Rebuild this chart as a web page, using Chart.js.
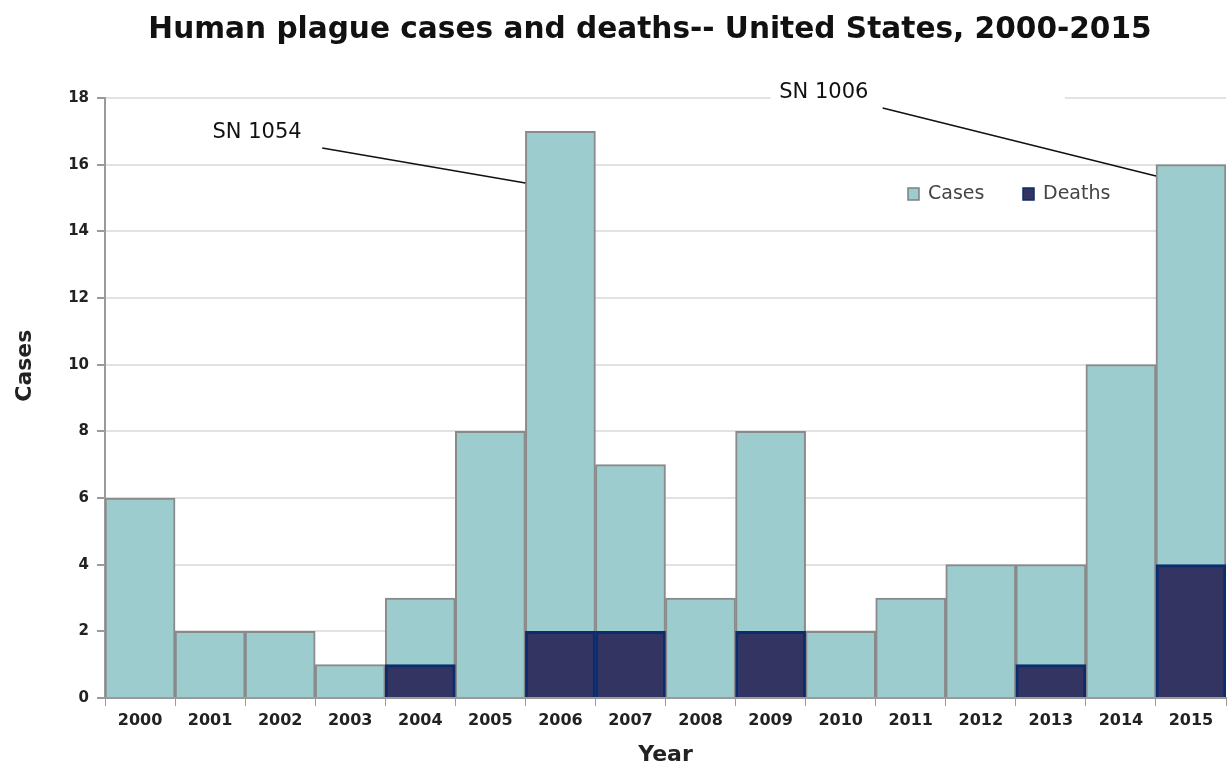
<!DOCTYPE html>
<html>
<head>
<meta charset="utf-8">
<script src="https://cdn.jsdelivr.net/npm/chart.js@4/dist/chart.umd.min.js"></script>
<style>
  html, body { margin: 0; padding: 0; background: #fff; }
  #wrap { width: 1229px; height: 769px; }
</style>
</head>
<body>
<div id="wrap"><canvas id="plague-chart"></canvas></div>
<script>
// Data
const years = ['2000', '2001', '2002', '2003', '2004', '2005', '2006', '2007',
               '2008', '2009', '2010', '2011', '2012', '2013', '2014', '2015'];
const cases = [6, 2, 2, 1, 3, 8, 17, 7, 3, 8, 2, 3, 4, 4, 10, 16];
const deaths = [0, 0, 0, 0, 1, 0, 2, 2, 0, 2, 0, 0, 0, 1, 0, 4];
const yTicks = [0, 2, 4, 6, 8, 10, 12, 14, 16, 18];

const casesColor = '#9ccccd';
const deathsColor = '#343463';

// Callout labels and their leader lines (in scale units: category index, cases)
const callouts = [
    { text: 'SN 1054', tx: 1.67, ty: 16.95, from: [2.6, 16.5], to: [5.5, 15.45] },
    { text: 'SN 1006', tx: 9.76, ty: 18.15, from: [10.6, 17.7], to: [14.5, 15.66], clear: [9.0, 13.2] }
];

const calloutPlugin = {
    id: 'callouts',
    afterDraw(chart) {
        const ctx = chart.ctx;
        const x = chart.scales.x, y = chart.scales.y;
        ctx.save();
        ctx.textBaseline = 'middle';

        // title: centred a little left of the plot centre, like the original
        ctx.font = 'bold 29.6px "DejaVu Sans"';
        ctx.fillStyle = '#111';
        ctx.textAlign = 'center';
        ctx.fillText('Human plague cases and deaths-- United States, 2000-2015', 650, 30);

        callouts.forEach(c => {
            if (c.clear) {
                ctx.fillStyle = '#fff';
                const x1 = x.getPixelForValue(c.clear[0]), x2 = x.getPixelForValue(c.clear[1]);
                ctx.fillRect(x1, y.getPixelForValue(c.ty) - 12, x2 - x1, 24);
            }
            ctx.strokeStyle = '#111';
            ctx.lineWidth = 1.5;
            ctx.beginPath();
            ctx.moveTo(x.getPixelForValue(c.from[0]), y.getPixelForValue(c.from[1]));
            ctx.lineTo(x.getPixelForValue(c.to[0]), y.getPixelForValue(c.to[1]));
            ctx.stroke();
            ctx.fillStyle = '#111';
            ctx.font = '21px "DejaVu Sans"';
            ctx.textAlign = 'center';
            ctx.fillText(c.text, x.getPixelForValue(c.tx), y.getPixelForValue(c.ty));
        });

        // legend inside the plot, top right
        const area = chart.chartArea;
        const ly = y.getPixelForValue(15) - 4;
        const items = [
            { label: 'Cases', fill: casesColor, border: '#7f7f7f', x: area.right - 318 },
            { label: 'Deaths', fill: deathsColor, border: '#0b2d6e', x: area.right - 203 }
        ];
        ctx.font = '19px "DejaVu Sans"';
        ctx.textAlign = 'left';
        items.forEach(it => {
            ctx.fillStyle = it.fill;
            ctx.fillRect(it.x, ly - 6, 11, 12);
            ctx.strokeStyle = it.border;
            ctx.lineWidth = 1.5;
            ctx.strokeRect(it.x, ly - 6, 11, 12);
            ctx.fillStyle = '#444';
            ctx.fillText(it.label, it.x + 20, ly);
        });

        // y axis title, a bit above the middle of the axis like the original
        ctx.translate(25, y.getPixelForValue(10) + 1);
        ctx.rotate(-Math.PI / 2);
        ctx.font = 'bold 22px "DejaVu Sans"';
        ctx.fillStyle = '#222';
        ctx.textAlign = 'center';
        ctx.fillText('Cases', 0, 0);
        ctx.restore();
    }
};

document.addEventListener('DOMContentLoaded', function() {
    new Chart(document.getElementById('plague-chart'), {
        type: 'bar',
        data: {
            labels: years,
            datasets: [{
                label: 'Cases',
                data: cases,
                backgroundColor: casesColor,
                borderColor: '#8a8a8a',
                borderWidth: 2,
                grouped: false,
                order: 1
            }, {
                label: 'Deaths',
                data: deaths,
                backgroundColor: deathsColor,
                borderColor: '#0b2d6e',
                borderWidth: 3,
                grouped: false,
                order: 0
            }]
        },
        options: {
            responsive: true,
            maintainAspectRatio: false,
            animation: false,
            barPercentage: 1,
            categoryPercentage: 1,
            layout: { padding: { left: 0, right: 3, top: 98, bottom: 0 } },
            plugins: {
                legend: { display: false },
                tooltip: { enabled: false },
                title: { display: false }
            },
            scales: {
                x: {
                    afterFit: s => { s.height = 71; },
                    grid: {
                        offset: true,
                        drawOnChartArea: false,
                        color: '#9a9a9a',
                        tickLength: 8
                    },
                    border: { color: '#9a9a9a', width: 2 },
                    ticks: {
                        color: '#222',
                        padding: 5,
                        font: { family: 'DejaVu Sans', size: 16, weight: 'bold' }
                    },
                    title: {
                        display: true,
                        text: 'Year',
                        color: '#222',
                        padding: { top: 0, bottom: 1 },
                        font: { family: 'DejaVu Sans', size: 22, weight: 'bold' }
                    }
                },
                y: {
                    min: 0,
                    max: 18,
                    afterFit: s => { s.width = 105; },
                    afterBuildTicks: s => { s.ticks = yTicks.map(v => ({ value: v })); },
                    grid: {
                        color: '#e2e2e2',
                        tickColor: '#9a9a9a',
                        tickLength: 8,
                        lineWidth: 2
                    },
                    border: { color: '#9a9a9a', width: 2 },
                    ticks: {
                        color: '#222',
                        padding: 8,
                        font: { family: 'DejaVu Sans', size: 15, weight: 'bold' }
                    }
                }
            }
        },
        plugins: [calloutPlugin]
    });
});
</script>
</body>
</html>
